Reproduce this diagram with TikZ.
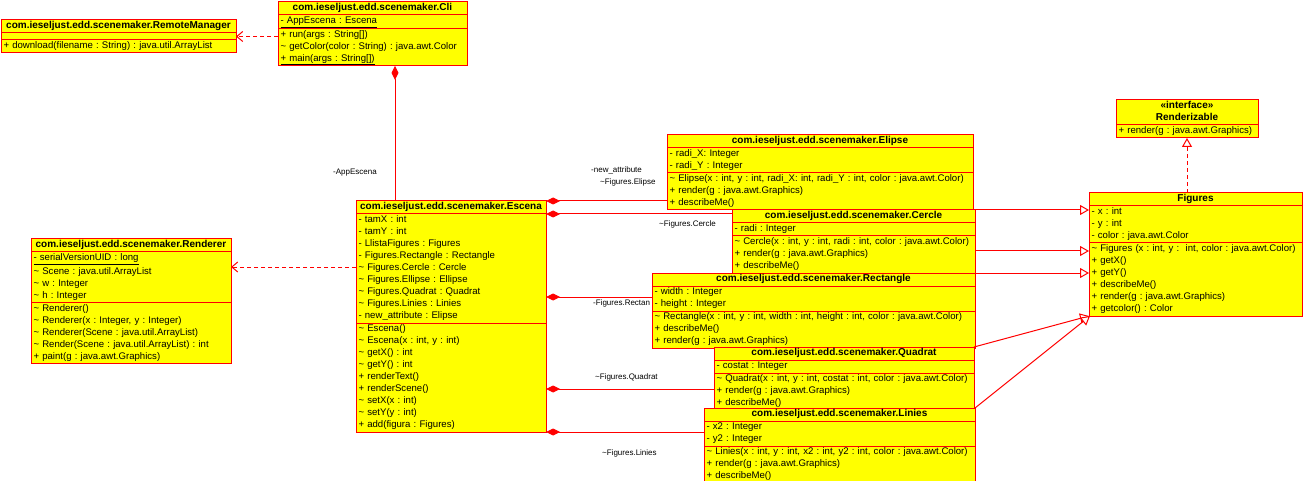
\documentclass[tikz,border=0pt]{standalone}
\usepackage{fontspec}
\setmainfont{Liberation Sans}
\usetikzlibrary{shapes.multipart,arrows.meta}
\definecolor{umlred}{RGB}{255,0,0}
\definecolor{umlyellow}{RGB}{255,255,0}
\setlength{\parindent}{0pt}
\frenchspacing
\newcommand{\pkgv}{\textasciitilde}
\newcommand{\mem}[1]{\mbox{\strut#1}}
\newcommand{\hdr}[1]{\makebox[\hsize][c]{\strut\fontsize{10}{12}\selectfont\bfseries#1}}
\tikzset{
  umlclass/.style={draw=umlred, line width=1pt, fill=umlyellow, rectangle split,
    rectangle split parts=3, anchor=north west, inner xsep=2.5pt, inner ysep=0pt,
    outer sep=0pt, align=left, font=\fontsize{9.6}{12}\selectfont},
  comp/.style={draw=umlred, line width=1pt, {Diamond[length=14pt,width=7pt,fill=umlred]}-},
  inherit/.style={draw=umlred, line width=1pt, -{Triangle[open,length=9pt,width=10pt,fill=white]}},
  realize/.style={inherit, dash pattern=on 4pt off 3pt},
  depend/.style={draw=umlred, line width=1pt, dash pattern=on 4pt off 3pt, -{Straight Barb[length=6pt,width=10pt]}},
  role/.style={anchor=west, inner sep=0pt, font=\fontsize{8}{9}\selectfont}
}
\begin{document}
\begin{tikzpicture}[x=1pt,y=-1pt]
  \useasboundingbox (0,0) rectangle (1304,481);
  % classes
  \node (rm) at (1,20) [umlclass, text width=230pt] {\hdr{com.ieseljust.edd.scenemaker.RemoteManager}
    \nodepart{two}\rule{0pt}{6pt}
    \nodepart{three}\mem{+ download(filename : String) : java.util.ArrayList}};
  \node (cli) at (278,2) [umlclass, text width=184pt] {\hdr{com.ieseljust.edd.scenemaker.Cli}
    \nodepart{two}\mem{\underline{- AppEscena : Escena}}
    \nodepart{three}\mem{+ run(args : String[])}\\ \mem{\pkgv{} getColor(color : String) : java.awt.Color}\\
    \mem{\underline{+ main(args : String[])}}};
  \node (renderer) at (31,239) [umlclass, text width=195pt] {\hdr{com.ieseljust.edd.scenemaker.Renderer}
    \nodepart{two}\mem{\underline{- serialVersionUID : long}}\\ \mem{\pkgv{} Scene : java.util.ArrayList}\\
    \mem{\pkgv{} w : Integer}\\ \mem{\pkgv{} h : Integer}
    \nodepart{three}\mem{\pkgv{} Renderer()}\\ \mem{\pkgv{} Renderer(x : Integer, y : Integer)}\\
    \mem{\pkgv{} Renderer(Scene : java.util.ArrayList)}\\ \mem{\pkgv{} Render(Scene : java.util.ArrayList) : int}\\
    \mem{+ paint(g : java.awt.Graphics)}};
  \node (escena) at (356,201) [umlclass, text width=185pt] {\hdr{com.ieseljust.edd.scenemaker.Escena}
    \nodepart{two}\mem{- tamX : int}\\ \mem{- tamY : int}\\ \mem{- LlistaFigures : Figures}\\
    \mem{- Figures.Rectangle : Rectangle}\\ \mem{\pkgv{} Figures.Cercle : Cercle}\\
    \mem{\pkgv{} Figures.Ellipse : Ellipse}\\ \mem{\pkgv{} Figures.Quadrat : Quadrat}\\
    \mem{\pkgv{} Figures.Linies : Linies}\\ \mem{- new\_attribute : Elipse}
    \nodepart{three}\mem{\pkgv{} Escena()}\\ \mem{\pkgv{} Escena(x : int, y : int)}\\
    \mem{\pkgv{} getX() : int}\\ \mem{\pkgv{} getY() : int}\\ \mem{+ renderText()}\\
    \mem{+ renderScene()}\\ \mem{\pkgv{} setX(x : int)}\\ \mem{\pkgv{} setY(y : int)}\\
    \mem{+ add(figura : Figures)}};
  \node (elipse) at (667,135) [umlclass, text width=301pt] {\hdr{com.ieseljust.edd.scenemaker.Elipse}
    \nodepart{two}\mem{- radi\_X: Integer}\\ \mem{- radi\_Y : Integer}
    \nodepart{three}\mem{\pkgv{} Elipse(x : int, y : int, radi\_X: int, radi\_Y : int, color : java.awt.Color)}\\
    \mem{+ render(g : java.awt.Graphics)}\\ \mem{+ describeMe()}};
  \node (cercle) at (732,210) [umlclass, text width=238pt] {\hdr{com.ieseljust.edd.scenemaker.Cercle}
    \nodepart{two}\mem{- radi : Integer}
    \nodepart{three}\mem{\pkgv{} Cercle(x : int, y : int, radi : int, color : java.awt.Color)}\\
    \mem{+ render(g : java.awt.Graphics)}\\ \mem{+ describeMe()}};
  \node (rectangle) at (652,273) [umlclass, text width=318pt] {\hdr{com.ieseljust.edd.scenemaker.Rectangle}
    \nodepart{two}\mem{- width : Integer}\\ \mem{- height : Integer}
    \nodepart{three}\mem{\pkgv{} Rectangle(x : int, y : int, width : int, height : int, color : java.awt.Color)}\\
    \mem{+ describeMe()}\\ \mem{+ render(g : java.awt.Graphics)}};
  \node (quadrat) at (714,347) [umlclass, text width=255pt] {\hdr{com.ieseljust.edd.scenemaker.Quadrat}
    \nodepart{two}\mem{- costat : Integer}
    \nodepart{three}\mem{\pkgv{} Quadrat(x : int, y : int, costat : int, color : java.awt.Color)}\\
    \mem{+ render(g : java.awt.Graphics)}\\ \mem{+ describeMe()}};
  \node (linies) at (704,408) [umlclass, text width=266pt] {\hdr{com.ieseljust.edd.scenemaker.Linies}
    \nodepart{two}\mem{- x2 : Integer}\\ \mem{- y2 : Integer}
    \nodepart{three}\mem{\pkgv{} Linies(x : int, y : int, x2 : int, y2 : int, color : java.awt.Color)}\\
    \mem{+ render(g : java.awt.Graphics)}\\ \mem{+ describeMe()}};
  \node (figures) at (1089,193) [umlclass, text width=208pt] {\hdr{Figures}
    \nodepart{two}\mem{- x : int}\\ \mem{- y : int}\\ \mem{- color : java.awt.Color}
    \nodepart{three}\mem{\pkgv{} Figures (x : int, y : \ int, color : java.awt.Color)}\\
    \mem{+ getX()}\\ \mem{+ getY()}\\ \mem{+ describeMe()}\\
    \mem{+ render(g : java.awt.Graphics)}\\ \mem{+ getcolor() : Color}};
  \node (renderizable) at (1116,100) [umlclass, rectangle split parts=2, text width=137pt]
    {\hdr{«interface»}\\ \hdr{Renderizable}
    \nodepart{two}\mem{+ render(g : java.awt.Graphics)}};
  % composition
  \coordinate (cApp) at ([xshift=22.5pt]cli.south);
  \draw[comp] (cApp) -- (cApp |- escena.north);
  \draw[comp] (escena.north east) -- (escena.north east -| elipse.west);
  \draw[comp] (escena.one split east) -- (escena.one split east -| cercle.west);
  \coordinate (cRect) at ([yshift=-96pt]escena.north east);
  \draw[comp] (cRect) -- (cRect -| rectangle.west);
  \coordinate (cQuad) at ([yshift=-188pt]escena.north east);
  \draw[comp] (cQuad) -- (cQuad -| quadrat.west);
  \draw[comp] (escena.south east) -- (escena.south east -| linies.west);
  % generalization
  \draw[inherit] (elipse.south east) -- (elipse.south east -| figures.west);
  \coordinate (cCer) at ([yshift=-41pt]cercle.north east);
  \draw[inherit] (cCer) -- (cCer -| figures.west);
  \draw[inherit] (rectangle.north east) -- (rectangle.north east -| figures.west);
  \draw[inherit] (quadrat.north east) -- (figures.south west);
  \draw[inherit] (linies.north east) -- ([xshift=1pt]figures.south west);
  \draw[realize] (figures.north -| renderizable.south) -- (renderizable.south);
  % dependencies
  \draw[depend] (rm.east -| cli.west) -- (rm.east);
  \coordinate (cScene) at ([yshift=-28pt]renderer.north east);
  \draw[depend] (cScene -| escena.west) -- (cScene);
  % role names
  \node (lApp) at (333,173) [role] {-AppEscena};
  \node (lNew) at (591,170) [role] {-new\_attribute};
  \node (lEli) at (600,182) [role] {\pkgv Figures.Elipse};
  \node (lCer) at (659,224) [role] {\pkgv Figures.Cercle};
  \node (lRec) at (593,303) [role] {-Figures.Rectan};
  \node (lQua) at (595,377) [role] {\pkgv Figures.Quadrat};
  \node (lLin) at (602,453) [role] {\pkgv Figures.Linies};
\end{tikzpicture}
\end{document}
